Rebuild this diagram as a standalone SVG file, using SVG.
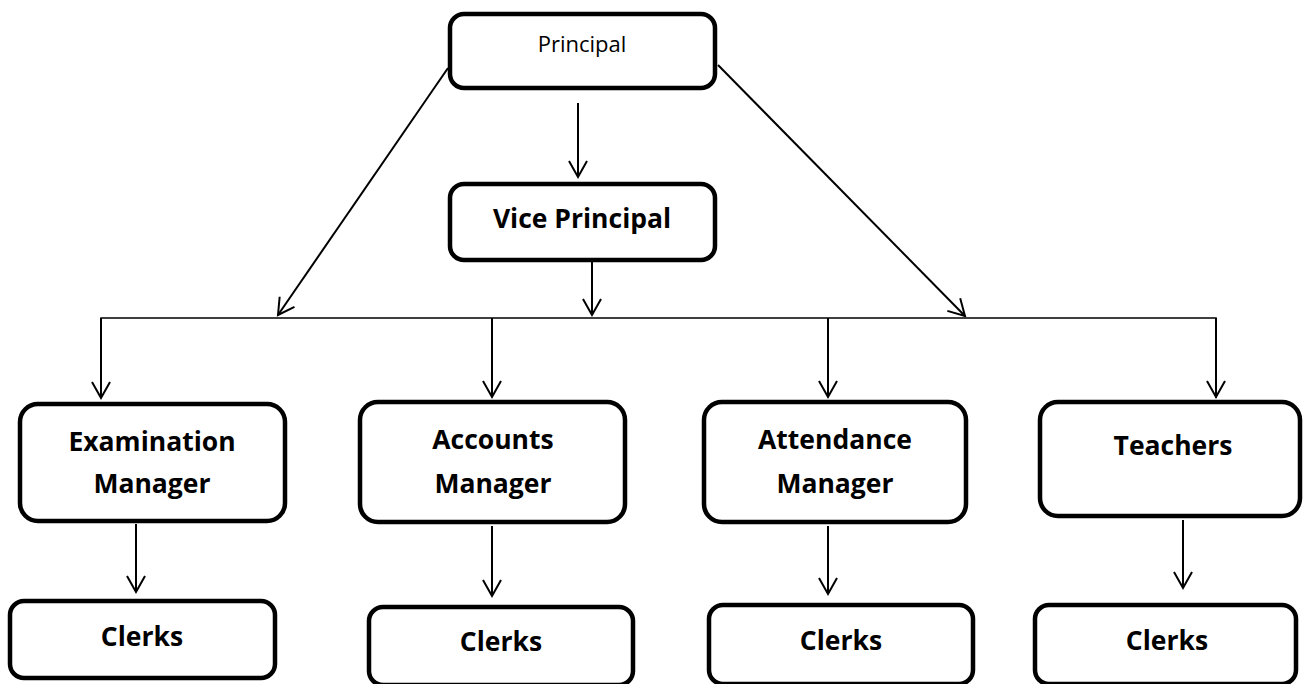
<svg xmlns="http://www.w3.org/2000/svg" width="1303" height="684" viewBox="0 0 1303 684">
  <style>
    .box { fill: #ffffff; stroke: #000000; stroke-width: 4.5; }
    .t { font-family: "Open Sans", "Liberation Sans", sans-serif; font-size: 26.5px; font-weight: bold; fill: #000000; text-anchor: middle; }
    .tr { font-family: "Open Sans", "Liberation Sans", sans-serif; font-size: 22px; font-weight: normal; fill: #000000; text-anchor: middle; }
    .c { fill: none; stroke: #000000; stroke-width: 2; }
    .bus { fill: none; stroke: #000000; stroke-width: 1.5; }
  </style>
  <defs>
    <marker id="arr" markerUnits="userSpaceOnUse" markerWidth="20" markerHeight="20" refX="0" refY="0" orient="auto" overflow="visible">
      <path d="M-16,-9 L0,0 L-16,9" fill="none" stroke="#000000" stroke-width="2"/>
    </marker>
  </defs>
  <rect width="1303" height="684" fill="#ffffff"/>

  <g id="connectors">
    <line class="c" x1="578" y1="103" x2="578" y2="177" marker-end="url(#arr)"/>
    <line class="c" x1="448" y1="68" x2="278" y2="315" marker-end="url(#arr)"/>
    <line class="c" x1="718" y1="65" x2="965" y2="316" marker-end="url(#arr)"/>
    <line class="c" x1="592" y1="262" x2="592" y2="315" marker-end="url(#arr)"/>
    <polyline class="bus" points="101,398 101,318 1216,318 1216,398"/>
    <line class="c" x1="101" y1="318" x2="101" y2="398" marker-end="url(#arr)"/>
    <line class="c" x1="492" y1="318" x2="492" y2="397" marker-end="url(#arr)"/>
    <line class="c" x1="828" y1="318" x2="828" y2="397" marker-end="url(#arr)"/>
    <line class="c" x1="1216" y1="318" x2="1216" y2="397" marker-end="url(#arr)"/>
    <line class="c" x1="136" y1="524" x2="136" y2="592" marker-end="url(#arr)"/>
    <line class="c" x1="492" y1="526" x2="492" y2="596" marker-end="url(#arr)"/>
    <line class="c" x1="828" y1="526" x2="828" y2="594" marker-end="url(#arr)"/>
    <line class="c" x1="1183" y1="520" x2="1183" y2="588" marker-end="url(#arr)"/>
  </g>

  <g id="principal">
    <rect class="box" x="450" y="14" width="265" height="74" rx="14"/>
    <text class="tr" x="582" y="52">Principal</text>
  </g>
  <g id="vice-principal">
    <rect class="box" x="450" y="184" width="265" height="76" rx="14"/>
    <text class="t" x="582" y="228">Vice Principal</text>
  </g>
  <g id="examination-manager">
    <rect class="box" x="20" y="404" width="265" height="117" rx="18"/>
    <text class="t" x="152" y="451">Examination</text>
    <text class="t" x="152" y="493">Manager</text>
  </g>
  <g id="accounts-manager">
    <rect class="box" x="360" y="402" width="265" height="120" rx="18"/>
    <text class="t" x="493" y="449">Accounts</text>
    <text class="t" x="493" y="493">Manager</text>
  </g>
  <g id="attendance-manager">
    <rect class="box" x="704" y="402" width="262" height="120" rx="18"/>
    <text class="t" x="835" y="449">Attendance</text>
    <text class="t" x="835" y="493">Manager</text>
  </g>
  <g id="teachers">
    <rect class="box" x="1040" y="402" width="260" height="114" rx="18"/>
    <text class="t" x="1173" y="455">Teachers</text>
  </g>
  <g id="clerks-1">
    <rect class="box" x="10" y="601" width="265" height="77" rx="14"/>
    <text class="t" x="142" y="646">Clerks</text>
  </g>
  <g id="clerks-2">
    <rect class="box" x="369" y="607" width="264" height="78" rx="14"/>
    <text class="t" x="501" y="651">Clerks</text>
  </g>
  <g id="clerks-3">
    <rect class="box" x="709" y="605" width="264" height="79" rx="14"/>
    <text class="t" x="841" y="650">Clerks</text>
  </g>
  <g id="clerks-4">
    <rect class="box" x="1035" y="605" width="261" height="79" rx="14"/>
    <text class="t" x="1167" y="650">Clerks</text>
  </g>
</svg>
